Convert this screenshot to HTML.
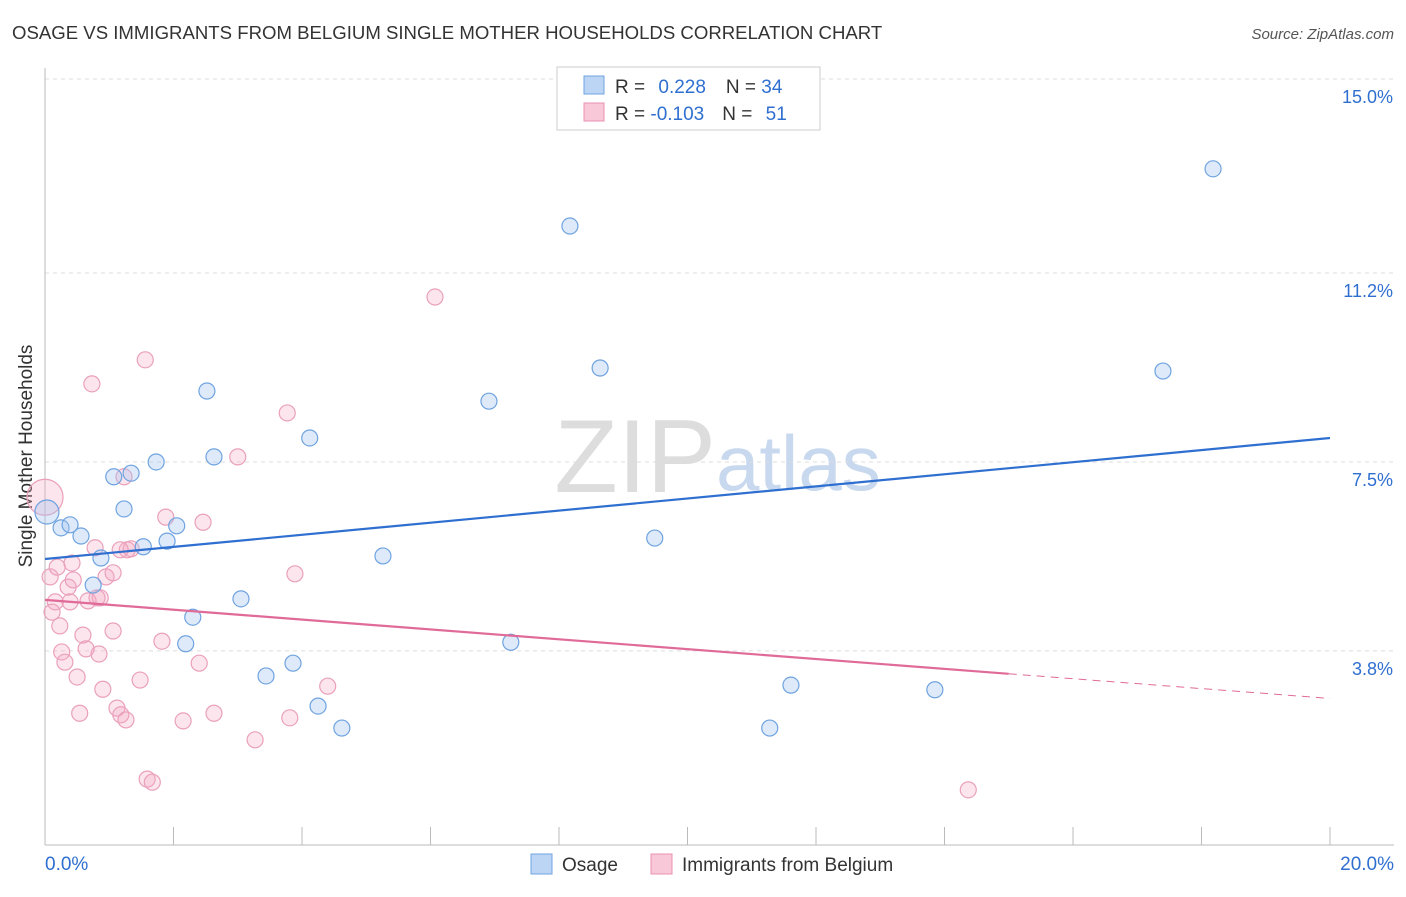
<!DOCTYPE html>
<html><head><meta charset="utf-8"><style>
body{margin:0;background:#fff;font-family:"Liberation Sans",sans-serif;}
svg text{font-family:"Liberation Sans",sans-serif;}
</style></head><body>
<svg id="c" width="1406" height="892">
<text x="12" y="39" font-size="18.6" fill="#333">OSAGE VS IMMIGRANTS FROM BELGIUM SINGLE MOTHER HOUSEHOLDS CORRELATION CHART</text>
<text x="1394" y="39" font-size="15" fill="#555" font-style="italic" text-anchor="end">Source: ZipAtlas.com</text>
<text x="32" y="456" font-size="19" fill="#333" text-anchor="middle" transform="rotate(-90 32 456)">Single Mother Households</text>
<text x="716" y="492" font-size="104" fill="#ddd" text-anchor="end" font-family="Liberation Serif">ZIP</text>
<text x="716" y="490" font-size="78" fill="#c8d8ee">atlas</text>
<g id="grid"></g><g id="marks"></g>
<g>
<rect x="557" y="67" width="263" height="63" fill="#fff" stroke="#ccc"/>
<rect x="584" y="76" width="20" height="18" fill="#bcd5f5" stroke="#6fa3e0"/>
<rect x="584" y="103" width="20" height="18" fill="#f9c8d8" stroke="#e890b0"/>
<text x="615" y="93" font-size="19" fill="#333">R = <tspan fill="#2f6fd0" dx="8">0.228</tspan><tspan dx="20" fill="#333">N = </tspan><tspan fill="#2f6fd0">34</tspan></text>
<text x="615" y="120" font-size="19" fill="#333">R = <tspan fill="#2f6fd0">-0.103</tspan><tspan dx="18" fill="#333">N = </tspan><tspan fill="#2f6fd0" dx="8">51</tspan></text>
</g>
<g>
<rect x="531" y="854" width="21" height="20" fill="#bcd5f5" stroke="#6fa3e0"/>
<text x="562" y="871" font-size="19" fill="#333">Osage</text>
<rect x="651" y="854" width="21" height="20" fill="#f9c8d8" stroke="#e890b0"/>
<text x="682" y="871" font-size="19" fill="#333">Immigrants from Belgium</text>
</g>
</svg>
<script>
const yTicks=[15.0,11.2,7.5,3.8];
const yTickLabels=["15.0%","11.2%","7.5%","3.8%"];
const xLabels=["0.0%","20.0%"];
const blueX=[0.03,0.25,0.39,0.56,0.87,0.75,1.07,1.34,1.23,1.53,1.73,1.90,2.05,2.52,2.63,2.30,2.19,3.05,3.44,3.86,4.25,4.62,4.12,5.26,6.91,7.25,8.17,8.64,9.49,11.28,11.61,13.85,17.40,18.18];
const blueY=[6.52,6.21,6.27,6.05,5.62,5.09,7.21,7.28,6.58,5.84,7.50,5.95,6.25,8.89,7.60,4.46,3.94,4.82,3.31,3.56,2.72,2.29,7.97,5.66,8.69,3.97,12.12,9.34,6.01,2.29,3.13,3.04,9.28,13.24];
const pinkX=[0,0.08,0.16,0.11,0.23,0.26,0.31,0.19,0.36,0.44,0.39,0.42,0.50,0.54,0.59,0.64,0.67,0.73,0.78,0.84,0.86,0.90,0.95,1.06,1.06,1.12,1.18,1.26,1.23,1.28,1.34,1.48,1.56,1.82,1.88,1.59,1.67,2.15,2.40,2.46,2.63,3.00,3.27,3.77,3.81,3.89,4.40,6.07,14.37,0.81,1.17];
const pinkY=[6.81,5.25,4.76,4.56,4.29,3.78,3.58,5.44,5.05,5.19,4.76,5.52,3.29,2.58,4.11,3.84,4.78,9.03,5.82,3.74,4.84,3.05,5.25,5.33,4.19,2.68,2.55,2.45,7.21,5.78,5.80,3.23,9.50,3.99,6.42,1.29,1.23,2.43,3.56,6.32,2.58,7.60,2.06,8.46,2.49,5.31,3.11,10.73,1.08,4.84,5.78];
const blueLine=[5.60,7.97];
const pinkLine=[4.80,2.87];
const pinkSolidEnd=15.0;
const X=v=>45+v*64.25, Y=v=>845-v*51.07;
const NS="http://www.w3.org/2000/svg";
const g=document.getElementById('grid'), m=document.getElementById('marks');
function mk(p,t,a){const e=document.createElementNS(NS,t);for(const k in a)e.setAttribute(k,a[k]);p.appendChild(e);return e;}
yTicks.forEach((v,i)=>{
 const l=mk(g,'line',{x1:45,x2:1394,y1:Y(v),y2:Y(v),stroke:'#ddd','stroke-dasharray':'4,4'});
 
 
 const t=mk(g,'text',{x:1393,y:Y(v)+24,'font-size':18,fill:'#2f6fd0','text-anchor':'end'});
 t.textContent=yTickLabels[i];
 
 
});
const ax=mk(g,'line',{x1:45,x2:45,y1:68,y2:845,stroke:'#bbb'});


const bx=mk(g,'line',{x1:45,x2:1394,y1:845,y2:845,stroke:'#bbb'});


for(let i=0;i<=10;i++){const t=mk(g,'line',{x1:X(i*2),x2:X(i*2),y1:827,y2:845,stroke:'#bbb'});
 
 }
[[0,'start',45],[1,'end',1394]].forEach(([i,a,x])=>{const t=mk(g,'text',{x:x,y:870,'font-size':19,fill:'#2f6fd0','text-anchor':a});t.textContent=xLabels[i];
 
 });
pinkX.forEach((x,i)=>{const c=mk(m,'circle',{cx:X(x),cy:Y(pinkY[i]),r:i==0?18:8,fill:'rgba(245,170,195,0.3)',stroke:'#eaa0bb','stroke-width':1.2});
 
 });
blueX.forEach((x,i)=>{const c=mk(m,'circle',{cx:X(x),cy:Y(blueY[i]),r:i==0?12:8,fill:'rgba(160,196,240,0.35)',stroke:'#6fa3e0','stroke-width':1.2});
 
 });
const bl=mk(m,'line',{x1:X(0),y1:Y(blueLine[0]),x2:X(20),y2:Y(blueLine[1]),stroke:'#2f6fd0','stroke-width':2.2});


const pm=pinkLine[0]+(pinkLine[1]-pinkLine[0])*pinkSolidEnd/20;
const pl=mk(m,'line',{x1:X(0),y1:Y(pinkLine[0]),x2:X(pinkSolidEnd),y2:Y(pm),stroke:'#e06a98','stroke-width':2.2});


const pd=mk(m,'line',{x1:X(pinkSolidEnd),y1:Y(pm),x2:X(20),y2:Y(pinkLine[1]),stroke:'#e06a98','stroke-width':1,'stroke-dasharray':'8,6'});


</script>
</body></html>
